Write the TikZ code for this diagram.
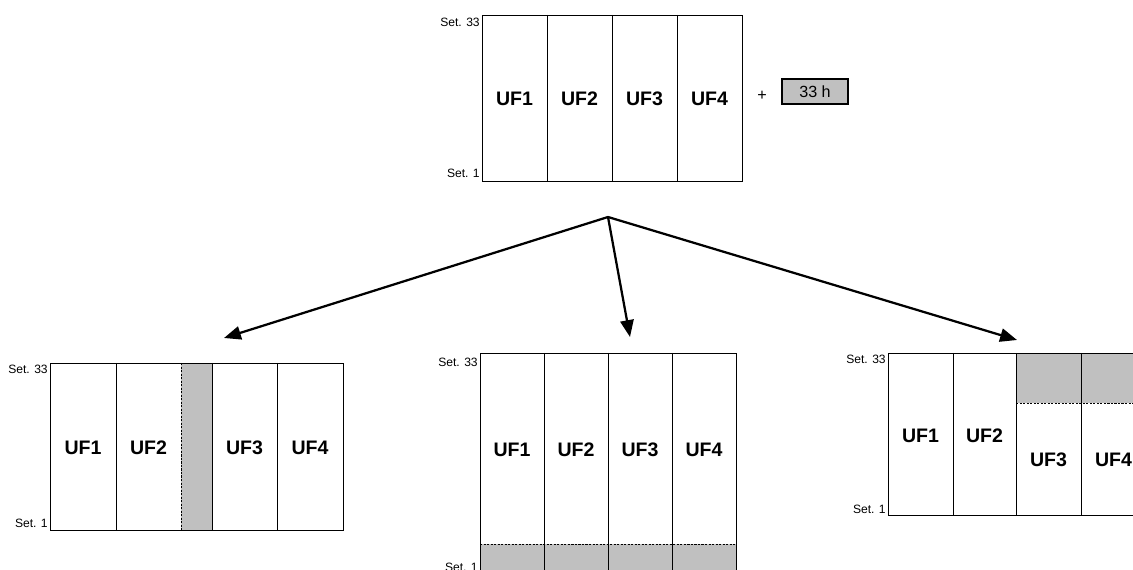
\documentclass[tikz,border=0pt]{standalone}
\usepackage{fontspec}
\setmainfont{Liberation Sans}
\usetikzlibrary{arrows.meta,positioning}
\definecolor{slot}{RGB}{192,192,192}
\tikzset{
  uf/.style={font=\fontsize{13.9}{14}\selectfont\bfseries, inner sep=0pt},
  setlbl/.style={font=\fontsize{8.6}{9}\selectfont, anchor=east, inner sep=0pt},
  grid/.style={line width=0.7pt},
  cut/.style={line width=0.5pt, dash pattern=on 1.5pt off 1pt},
  arr/.style={line width=1.6pt, -{Triangle[length=12pt,width=9.5pt]}}
}

\begin{document}
\begin{tikzpicture}[x=0.025cm,y=-0.025cm]
    \clip (0,0) rectangle (1133,570);
    \fill[white] (0,0) rectangle (1133,570);
    % Top plan
    \draw[grid] (482,15) rectangle (742,181);
    \draw[grid] (547,15) -- (547,181) (612,15) -- (612,181) (677,15) -- (677,181);
    \node[setlbl] (tS33) at (480,22) {Set. 33};
    \node[setlbl] (tS1) at (480,173) {Set. 1};
    \node[uf] (t1) at (514.5,99) {UF1};
    \node[uf] (t2) at (579.5,99) {UF2};
    \node[uf] (t3) at (644.5,99) {UF3};
    \node[uf] (t4) at (709.5,99) {UF4};
    \node[font=\fontsize{11.5}{12}\selectfont] (plus) at (762,96) {+};
    \node[draw, line width=0.8pt, fill=slot, minimum width=1.65cm, minimum height=0.625cm,
          inner sep=0pt, font=\fontsize{11.5}{12}\selectfont] (hours) at (815,91.5) {33 h};
    % Arrows
    \coordinate (split) at (608,217);
    \coordinate (ltip) at (224,338);
    \coordinate (mtip) at (630,337);
    \coordinate (rtip) at (1017,340);
    \draw[arr] (split) -- (ltip);
    \draw[arr] (split) -- (mtip);
    \draw[arr] (split) -- (rtip);
    % Left: extra column
    \fill[slot] (181,363) rectangle (212,530);
    \draw[grid] (181,363) -- (50,363) -- (50,530) -- (181,530);
    \draw[grid] (181,363) -- (343,363) -- (343,530) -- (181,530);
    \draw[grid] (116,363) -- (116,530) (212,363) -- (212,530) (277,363) -- (277,530);
    \draw[cut] (181,363) -- (181,530);
    \node[setlbl] (lS33) at (48,369) {Set. 33};
    \node[setlbl] (lS1) at (48,523) {Set. 1};
    \node[uf] (l1) at (83,448) {UF1};
    \node[uf] (l2) at (148.5,448) {UF2};
    \node[uf] (l3) at (244.5,448) {UF3};
    \node[uf] (l4) at (310,448) {UF4};
    % Middle: extra row
    \fill[slot] (480,544) rectangle (736,590);
    \draw[grid] (480,590) -- (480,353) -- (736,353) -- (736,590);
    \draw[grid] (544,353) -- (544,590) (608,353) -- (608,590) (672,353) -- (672,590);
    \draw[cut] (480,544) -- (736,544);
    \node[setlbl] (mS33) at (478,362) {Set. 33};
    \node[setlbl] (mS1) at (478,567) {Set. 1};
    \node[uf] (m1) at (512,450) {UF1};
    \node[uf] (m2) at (576,450) {UF2};
    \node[uf] (m3) at (640,450) {UF3};
    \node[uf] (m4) at (704,450) {UF4};
    % Right: shifted start
    \fill[slot] (1016,353) rectangle (1146,403);
    \draw[grid] (888,353) rectangle (1146,515);
    \draw[grid] (953,353) -- (953,515) (1016,353) -- (1016,515) (1081,353) -- (1081,515);
    \draw[cut] (1016,403) -- (1146,403);
    \node[setlbl] (rS33) at (886,359) {Set. 33};
    \node[setlbl] (rS1) at (886,509) {Set. 1};
    \node[uf] (r1) at (920.5,436) {UF1};
    \node[uf] (r2) at (984.5,436) {UF2};
    \node[uf] (r3) at (1048.5,460) {UF3};
    \node[uf] (r4) at (1113.5,460) {UF4};
\end{tikzpicture}
\end{document}
